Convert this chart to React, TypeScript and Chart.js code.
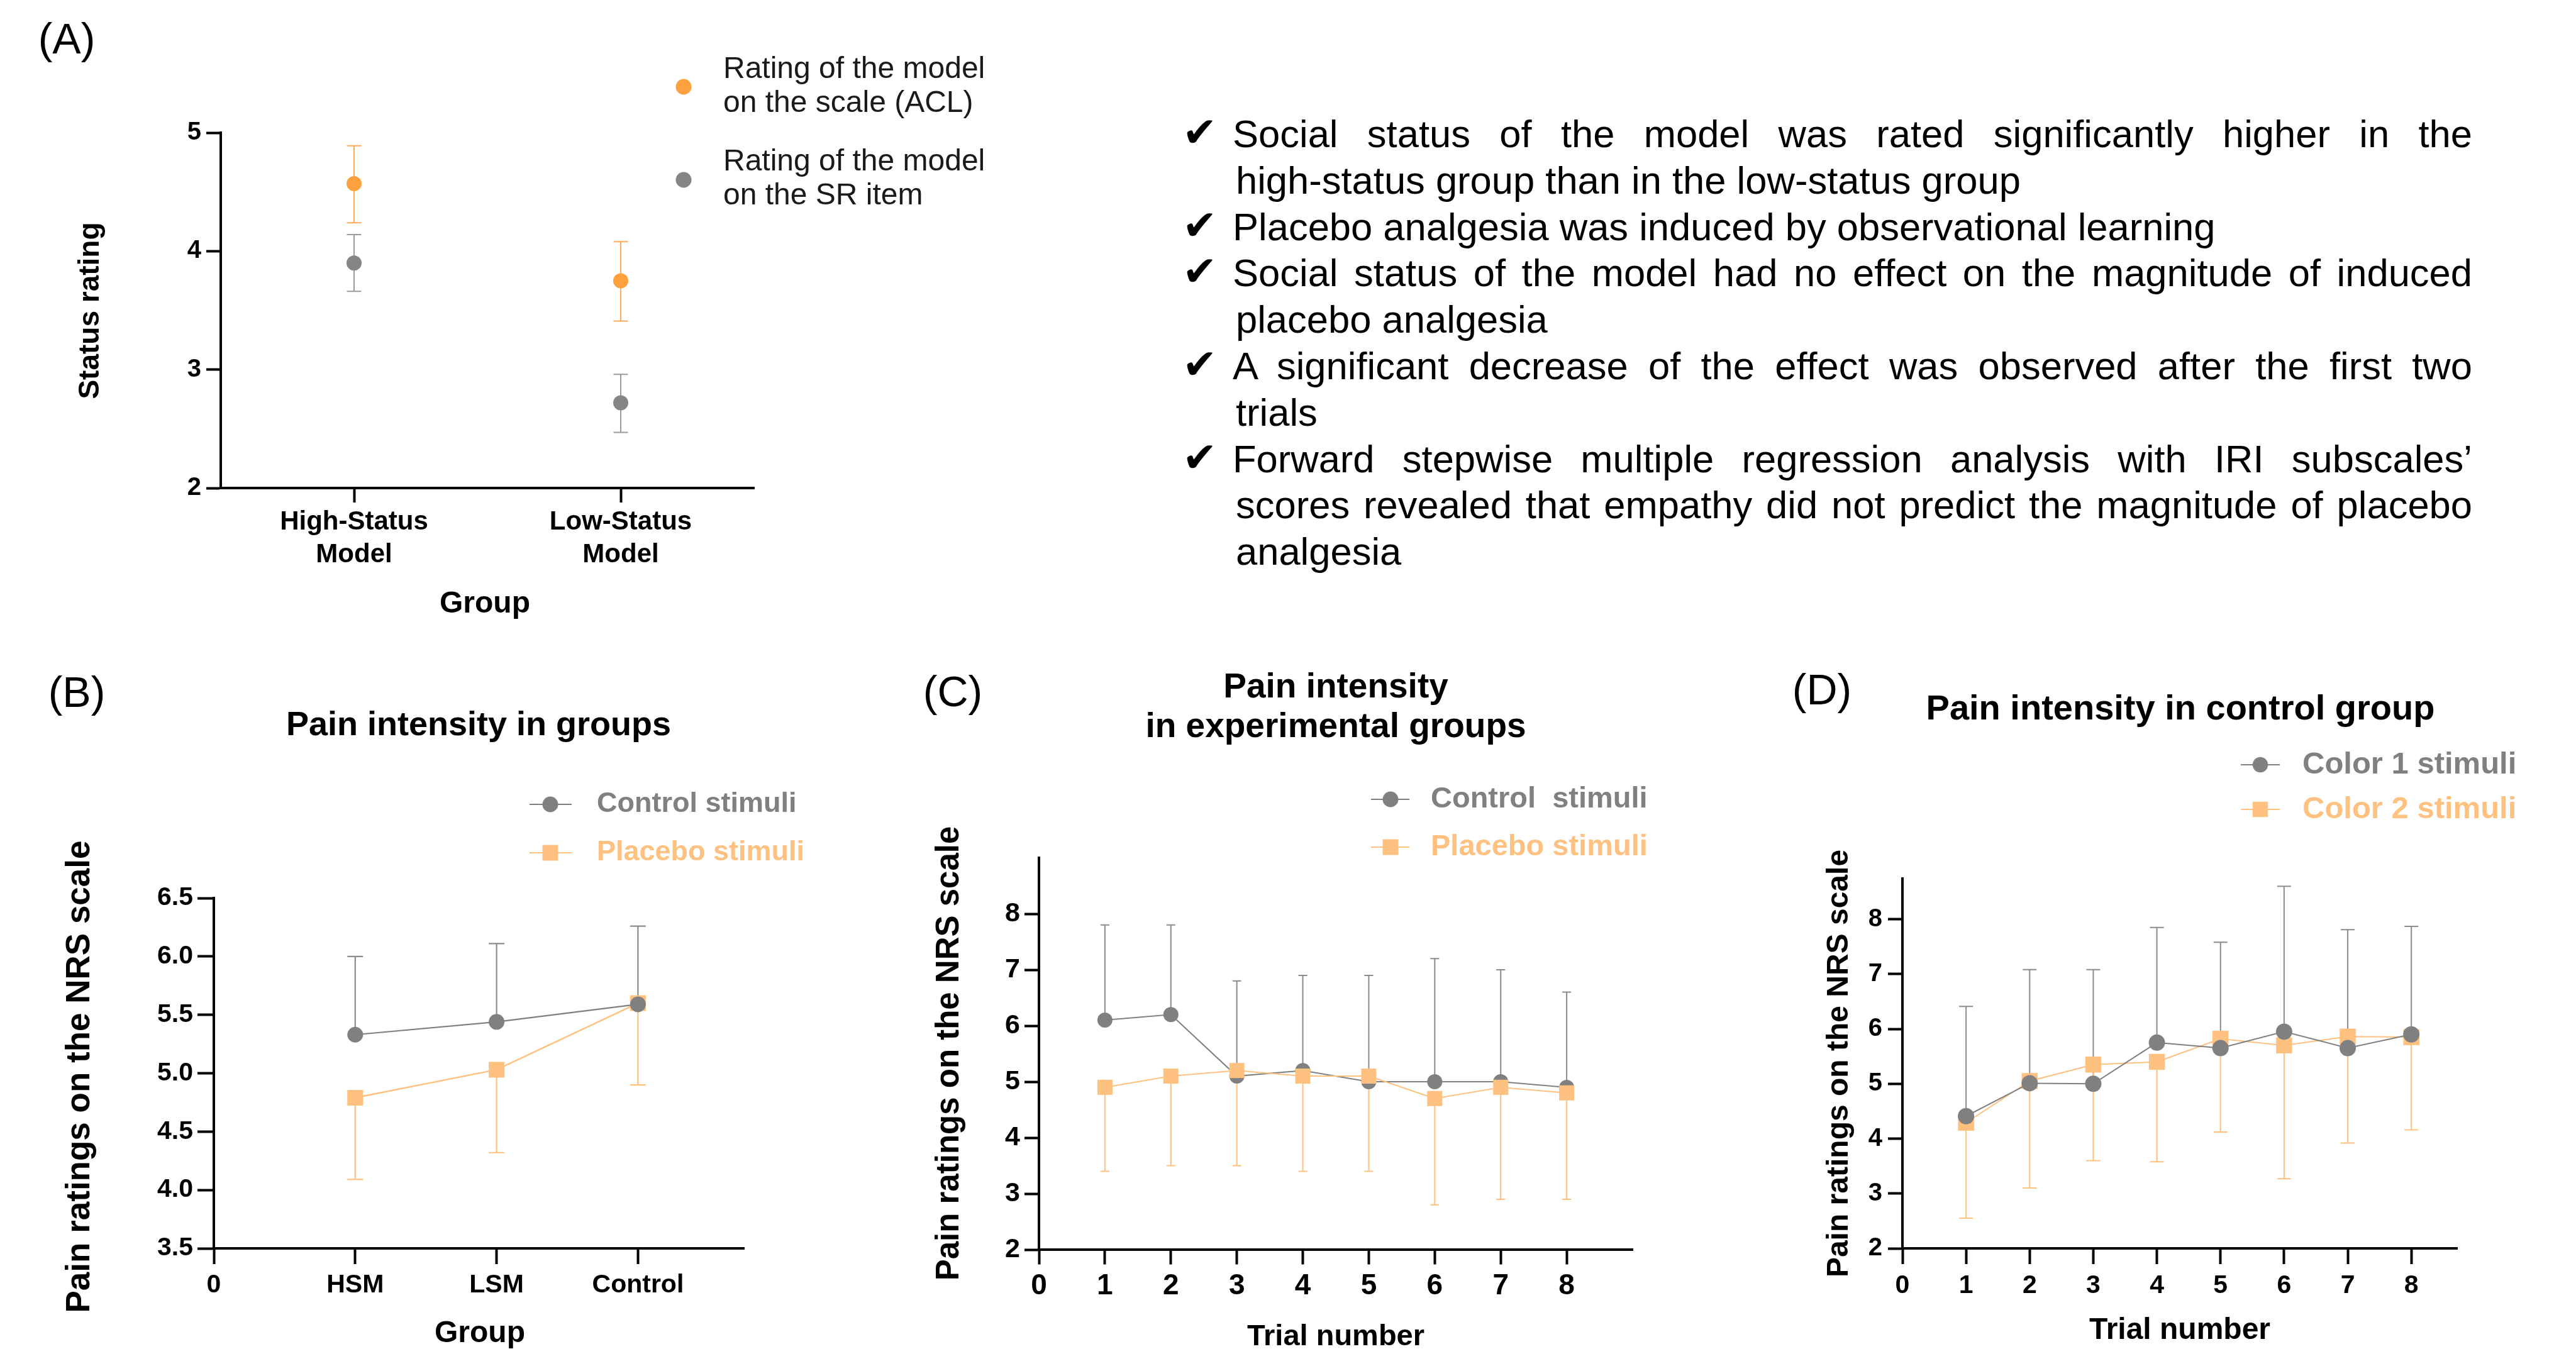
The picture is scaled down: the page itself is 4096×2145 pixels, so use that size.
import React, { useEffect, useRef } from 'react';
import { Chart, registerables } from 'chart.js';

Chart.register(...registerables);

const FONT = "'Liberation Sans', Arial, Helvetica, sans-serif";
Chart.defaults.font.family = FONT;

const GRAY = '#808080';
const GRAY_BAR = '#8c8c8c';
const ORANGE = '#FFC180';
const ORANGE_A = '#FFA03E';
const ORANGE_A_BAR = '#FFAD5A';
const GRAY_A = '#858585';
const GRAY_A_BAR = '#9a9a9a';

// ---------------- Panel A ----------------
const categoriesA = [['High-Status', 'Model'], ['Low-Status', 'Model']];
const aclMean = [4.57, 3.75];
const aclLower = [4.24, 3.41];
const aclUpper = [4.89, 4.08];
const srMean = [3.9, 2.72];
const srLower = [3.66, 2.47];
const srUpper = [4.14, 2.96];
const yTicksA = [2, 3, 4, 5];

// ---------------- Panel B ----------------
const groupPosB = [1, 2, 3];
const xTicksB = [0, 1, 2, 3];
const xTickLabelsB = ['0', 'HSM', 'LSM', 'Control'];
const yTicksB = [3.5, 4.0, 4.5, 5.0, 5.5, 6.0, 6.5];
const controlB = [5.33, 5.44, 5.59];
const controlBUpper = [6.0, 6.11, 6.26];
const placeboB = [4.79, 5.03, 5.6];
const placeboBLower = [4.09, 4.32, 4.9];

// ---------------- Panel C ----------------
const trialsC = [1, 2, 3, 4, 5, 6, 7, 8];
const xTicksC = [0, 1, 2, 3, 4, 5, 6, 7, 8];
const yTicksC = [2, 3, 4, 5, 6, 7, 8];
const controlC = [6.1, 6.2, 5.1, 5.2, 5.0, 5.0, 5.0, 4.9];
const controlCUpper = [7.8, 7.8, 6.8, 6.9, 6.9, 7.2, 7.0, 6.6];
const placeboC = [4.9, 5.1, 5.2, 5.1, 5.1, 4.7, 4.9, 4.8];
const placeboCLower = [3.4, 3.5, 3.5, 3.4, 3.4, 2.8, 2.9, 2.9];

// ---------------- Panel D ----------------
const trialsD = [1, 2, 3, 4, 5, 6, 7, 8];
const xTicksD = [0, 1, 2, 3, 4, 5, 6, 7, 8];
const yTicksD = [2, 3, 4, 5, 6, 7, 8];
const color1D = [4.41, 5.01, 5.0, 5.75, 5.65, 5.95, 5.65, 5.9];
const color1DUpper = [6.41, 7.08, 7.08, 7.85, 7.58, 8.6, 7.81, 7.87];
const color2D = [4.29, 5.05, 5.35, 5.4, 5.82, 5.7, 5.86, 5.85];
const color2DLower = [2.55, 3.1, 3.6, 3.58, 4.12, 3.27, 3.92, 4.16];

// ---------------- Text block ----------------
const bulletLines: [boolean, string, boolean][] = [
  [true, 'Social status of the model was rated significantly higher in the', true],
  [false, 'high-status group than in the low-status group', false],
  [true, 'Placebo analgesia was induced by observational learning', false],
  [true, 'Social status of the model had no effect on the magnitude of induced', true],
  [false, 'placebo analgesia', false],
  [true, 'A significant decrease of the effect was observed after the first two', true],
  [false, 'trials', false],
  [true, 'Forward stepwise multiple regression analysis with IRI subscales\u2019', true],
  [false, 'scores revealed that empathy did not predict the magnitude of placebo', true],
  [false, 'analgesia', false],
];

type Item =
  | { kind: 'text'; text: string; x: number; y: number; size: number; bold?: boolean; color?: string; align?: CanvasTextAlign; rotate?: boolean }
  | { kind: 'legend'; x1: number; x2: number; cx: number; y: number; color: string; marker: 'circle' | 'square'; r: number; lw: number };

const errorBarPlugin = {
  id: 'errorBars',
  beforeDatasetsDraw(chart: any) {
    const { ctx } = chart;
    const yScale = chart.scales.y;
    chart.data.datasets.forEach((ds: any, i: number) => {
      const eb = ds.errorBars;
      if (!eb) return;
      const meta = chart.getDatasetMeta(i);
      ctx.save();
      ctx.strokeStyle = eb.color;
      ctx.lineWidth = eb.width;
      meta.data.forEach((el: any, j: number) => {
        const x = el.x;
        const y = el.y;
        const bounds: number[] = [];
        if (eb.upper) bounds.push(eb.upper[j]);
        if (eb.lower) bounds.push(eb.lower[j]);
        bounds.forEach((b) => {
          const yb = yScale.getPixelForValue(b);
          ctx.beginPath();
          ctx.moveTo(x, y);
          ctx.lineTo(x, yb);
          ctx.moveTo(x - eb.cap, yb);
          ctx.lineTo(x + eb.cap, yb);
          ctx.stroke();
        });
      });
      ctx.restore();
    });
  },
};

function makeDecor(items: Item[], ox: number, oy: number) {
  return {
    id: 'decor',
    afterDraw(chart: any) {
      const ctx: CanvasRenderingContext2D = chart.ctx;
      for (const it of items) {
        ctx.save();
        if (it.kind === 'text') {
          ctx.font = `${it.bold ? 'bold ' : ''}${it.size}px ${FONT}`;
          ctx.fillStyle = it.color || '#000';
          ctx.textAlign = it.align || 'center';
          ctx.textBaseline = 'middle';
          ctx.translate(it.x - ox, it.y - oy);
          if (it.rotate) ctx.rotate(-Math.PI / 2);
          ctx.fillText(it.text, 0, 0);
        } else {
          const y = it.y - oy;
          if (it.x2 > it.x1) {
            ctx.strokeStyle = it.color;
            ctx.lineWidth = it.lw;
            ctx.beginPath();
            ctx.moveTo(it.x1 - ox, y);
            ctx.lineTo(it.x2 - ox, y);
            ctx.stroke();
          }
          ctx.fillStyle = it.color;
          const cx = it.cx - ox;
          if (it.marker === 'circle') {
            ctx.beginPath();
            ctx.arc(cx, y, it.r, 0, Math.PI * 2);
            ctx.fill();
          } else {
            ctx.fillRect(cx - it.r, y - it.r, it.r * 2, it.r * 2);
          }
        }
        ctx.restore();
      }
    },
  };
}

function axis(tickLen: number, fontSize: number, padding: number, lineHeight = 1.2, callback?: any) {
  const ticks: any = {
    color: '#000',
    font: { family: FONT, size: fontSize, weight: 'bold' as const, lineHeight },
    padding,
    autoSkip: false,
    maxRotation: 0,
    minRotation: 0,
  };
  if (callback) ticks.callback = callback;
  return {
    grid: { display: true, drawOnChartArea: false, drawTicks: true, tickLength: tickLen, tickWidth: 4, tickColor: '#000' },
    border: { display: true, width: 4, color: '#000' },
    ticks,
  };
}

interface Spec {
  ox: number; oy: number; w: number; h: number;
  area: { left: number; right: number; top: number; bottom: number };
  xH: number; x: any; y: any; labels?: any[]; datasets: any[]; items: Item[];
}

function buildConfig(p: Spec): any {
  const L = p.area.left - p.ox;
  const R = p.area.right - p.ox;
  const T = p.area.top - p.oy;
  const B = p.area.bottom - p.oy;
  return {
    type: 'line',
    data: { labels: p.labels, datasets: p.datasets },
    options: {
      responsive: false,
      maintainAspectRatio: false,
      animation: false,
      events: [],
      layout: { padding: { left: 0, top: T, right: p.w - R, bottom: p.h - B - p.xH } },
      plugins: { legend: { display: false }, tooltip: { enabled: false }, title: { display: false } },
      scales: {
        x: { ...p.x, afterFit: (s: any) => { s.height = p.xH; } },
        y: { ...p.y, afterFit: (s: any) => { s.width = L; } },
      },
    },
    plugins: [errorBarPlugin, makeDecor(p.items, p.ox, p.oy)],
  };
}

function lineDs(label: string, xs: number[], ys: number[], color: string, style: 'circle' | 'rect', radius: number, lw: number, order: number, eb: any, showLine = true) {
  return {
    label,
    data: ys.map((v, i) => ({ x: xs[i], y: v })),
    borderColor: color,
    backgroundColor: color,
    borderWidth: lw,
    showLine,
    tension: 0,
    fill: false,
    pointStyle: style,
    pointRadius: radius,
    pointBackgroundColor: color,
    pointBorderWidth: 0,
    pointBorderColor: color,
    order,
    clip: false,
    errorBars: eb,
  };
}

const specA: Spec = {
  ox: 0, oy: 0, w: 1700, h: 1060,
  area: { left: 351, right: 1199, top: 211, bottom: 776 },
  xH: 150,
  labels: categoriesA,
  x: { type: 'category', offset: true, ...axis(23, 42, 5, 1.25), grid: { display: true, drawOnChartArea: false, drawTicks: true, tickLength: 23, tickWidth: 4, tickColor: '#000', offset: false } },
  y: {
    type: 'linear', min: 2, max: 5, ...axis(23, 40, 8),
    afterBuildTicks: (s: any) => { s.ticks = yTicksA.map((v) => ({ value: v })); },
  },
  datasets: [
    {
      label: 'Rating of the model on the scale (ACL)', data: aclMean, showLine: false,
      pointStyle: 'circle', pointRadius: 12, pointBackgroundColor: ORANGE_A, pointBorderWidth: 0,
      borderColor: ORANGE_A, backgroundColor: ORANGE_A, order: 0, clip: false,
      errorBars: { upper: aclUpper, lower: aclLower, color: ORANGE_A_BAR, width: 2, cap: 11.5 },
    },
    {
      label: 'Rating of the model on the SR item', data: srMean, showLine: false,
      pointStyle: 'circle', pointRadius: 12, pointBackgroundColor: GRAY_A, pointBorderWidth: 0,
      borderColor: GRAY_A, backgroundColor: GRAY_A, order: 1, clip: false,
      errorBars: { upper: srUpper, lower: srLower, color: GRAY_A_BAR, width: 2, cap: 11.5 },
    },
  ],
  items: [
    { kind: 'text', text: '(A)', x: 106, y: 66, size: 68 },
    { kind: 'text', text: 'Status rating', x: 144, y: 494, size: 46, bold: true, rotate: true },
    { kind: 'text', text: 'Group', x: 771, y: 961, size: 48, bold: true },
    { kind: 'legend', x1: 0, x2: 0, cx: 1087, y: 138, color: ORANGE_A, marker: 'circle', r: 12.5, lw: 0 },
    { kind: 'text', text: 'Rating of the model', x: 1150, y: 111, size: 48, align: 'left', color: '#1a1a1a' },
    { kind: 'text', text: 'on the scale (ACL)', x: 1150, y: 165, size: 48, align: 'left', color: '#1a1a1a' },
    { kind: 'legend', x1: 0, x2: 0, cx: 1087, y: 286, color: GRAY_A, marker: 'circle', r: 12.5, lw: 0 },
    { kind: 'text', text: 'Rating of the model', x: 1150, y: 258, size: 48, align: 'left', color: '#1a1a1a' },
    { kind: 'text', text: 'on the SR item', x: 1150, y: 312, size: 48, align: 'left', color: '#1a1a1a' },
  ],
};

const specB: Spec = {
  ox: 0, oy: 1060, w: 1400, h: 1085,
  area: { left: 340, right: 1183, top: 1428, bottom: 1985 },
  xH: 100,
  x: {
    type: 'linear', min: 0, max: 3.75,
    ...axis(25, 41, 9, 1.2, (_v: any, i: number) => xTickLabelsB[i]),
    afterBuildTicks: (s: any) => { s.ticks = xTicksB.map((v) => ({ value: v })); },
  },
  y: {
    type: 'linear', min: 3.5, max: 6.5,
    ...axis(26, 41, 7, 1.2, (v: any) => Number(v).toFixed(1)),
    afterBuildTicks: (s: any) => { s.ticks = yTicksB.map((v) => ({ value: v })); },
  },
  datasets: [
    lineDs('Control stimuli', groupPosB, controlB, GRAY, 'circle', 12.5, 2.2, 0, { upper: controlBUpper, color: GRAY_BAR, width: 2.2, cap: 12.5 }),
    lineDs('Placebo stimuli', groupPosB, placeboB, ORANGE, 'rect', 17.7, 2.4, 1, { lower: placeboBLower, color: ORANGE, width: 2.2, cap: 12.5 }),
  ],
  items: [
    { kind: 'text', text: '(B)', x: 122, y: 1105, size: 68 },
    { kind: 'text', text: 'Pain intensity in groups', x: 761, y: 1154, size: 54, bold: true },
    { kind: 'legend', x1: 842, x2: 909, cx: 875, y: 1279, color: GRAY, marker: 'circle', r: 12.5, lw: 2.2 },
    { kind: 'text', text: 'Control stimuli', x: 949, y: 1279, size: 45, bold: true, align: 'left', color: GRAY },
    { kind: 'legend', x1: 842, x2: 909, cx: 875, y: 1356, color: ORANGE, marker: 'square', r: 12.5, lw: 2.2 },
    { kind: 'text', text: 'Placebo stimuli', x: 949, y: 1356, size: 45, bold: true, align: 'left', color: ORANGE },
    { kind: 'text', text: 'Pain ratings on the NRS scale', x: 127, y: 1712, size: 53, bold: true, rotate: true },
    { kind: 'text', text: 'Group', x: 763, y: 2121, size: 48, bold: true },
  ],
};

const specC: Spec = {
  ox: 1400, oy: 1060, w: 1350, h: 1085,
  area: { left: 1652, right: 2596, top: 1364, bottom: 1987 },
  xH: 100,
  x: {
    type: 'linear', min: 0, max: 9, ...axis(23.5, 46, 7.5),
    afterBuildTicks: (s: any) => { s.ticks = xTicksC.map((v) => ({ value: v })); },
  },
  y: {
    type: 'linear', min: 2, max: 9, ...axis(23, 43, 7),
    afterBuildTicks: (s: any) => { s.ticks = yTicksC.map((v) => ({ value: v })); },
  },
  datasets: [
    lineDs('Placebo stimuli', trialsC, placeboC, ORANGE, 'rect', 17, 2, 0, { lower: placeboCLower, color: ORANGE, width: 2, cap: 7 }),
    lineDs('Control  stimuli', trialsC, controlC, GRAY, 'circle', 12, 2, 1, { upper: controlCUpper, color: GRAY_BAR, width: 2, cap: 7 }),
  ],
  items: [
    { kind: 'text', text: '(C)', x: 1515, y: 1104, size: 68 },
    { kind: 'text', text: 'Pain intensity', x: 2124, y: 1094, size: 55, bold: true },
    { kind: 'text', text: 'in experimental groups', x: 2124, y: 1157, size: 55, bold: true },
    { kind: 'legend', x1: 2180, x2: 2241, cx: 2211, y: 1271, color: GRAY, marker: 'circle', r: 12.5, lw: 2.2 },
    { kind: 'text', text: 'Control  stimuli', x: 2275, y: 1271, size: 47, bold: true, align: 'left', color: GRAY },
    { kind: 'legend', x1: 2180, x2: 2241, cx: 2211, y: 1347, color: ORANGE, marker: 'square', r: 12.5, lw: 2.2 },
    { kind: 'text', text: 'Placebo stimuli', x: 2275, y: 1347, size: 47, bold: true, align: 'left', color: ORANGE },
    { kind: 'text', text: 'Pain ratings on the NRS scale', x: 1510, y: 1675, size: 51, bold: true, rotate: true },
    { kind: 'text', text: 'Trial number', x: 2124, y: 2126, size: 47, bold: true },
  ],
};

const specD: Spec = {
  ox: 2750, oy: 1060, w: 1346, h: 1085,
  area: { left: 3025, right: 3907, top: 1397, bottom: 1985 },
  xH: 100,
  x: {
    type: 'linear', min: 0, max: 8.72, ...axis(25, 41, 10),
    afterBuildTicks: (s: any) => { s.ticks = xTicksD.map((v) => ({ value: v })); },
  },
  y: {
    type: 'linear', min: 2, max: 8.74, ...axis(23, 40, 9),
    afterBuildTicks: (s: any) => { s.ticks = yTicksD.map((v) => ({ value: v })); },
  },
  datasets: [
    lineDs('Color 1 stimuli', trialsD, color1D, GRAY, 'circle', 13, 2, 0, { upper: color1DUpper, color: GRAY_BAR, width: 2, cap: 11 }),
    lineDs('Color 2 stimuli', trialsD, color2D, ORANGE, 'rect', 18, 2, 1, { lower: color2DLower, color: ORANGE, width: 2, cap: 11 }),
  ],
  items: [
    { kind: 'text', text: '(D)', x: 2897, y: 1101, size: 68 },
    { kind: 'text', text: 'Pain intensity in control group', x: 3467, y: 1129, size: 56, bold: true },
    { kind: 'legend', x1: 3563, x2: 3625, cx: 3594, y: 1216, color: GRAY, marker: 'circle', r: 12.2, lw: 2.2 },
    { kind: 'text', text: 'Color 1 stimuli', x: 3661, y: 1216, size: 49, bold: true, align: 'left', color: GRAY },
    { kind: 'legend', x1: 3563, x2: 3625, cx: 3594, y: 1287, color: ORANGE, marker: 'square', r: 12.2, lw: 2.2 },
    { kind: 'text', text: 'Color 2 stimuli', x: 3661, y: 1287, size: 49, bold: true, align: 'left', color: ORANGE },
    { kind: 'text', text: 'Pain ratings on the NRS scale', x: 2925, y: 1691, size: 48, bold: true, rotate: true },
    { kind: 'text', text: 'Trial number', x: 3466, y: 2116, size: 48, bold: true },
  ],
};

function Panel({ spec }: { spec: Spec }) {
  const ref = useRef<HTMLCanvasElement>(null);
  useEffect(() => {
    if (!ref.current) return;
    const chart = new Chart(ref.current, buildConfig(spec));
    return () => chart.destroy();
  }, []);
  return (
    <canvas
      ref={ref}
      width={spec.w}
      height={spec.h}
      style={{ position: 'absolute', left: spec.ox, top: spec.oy, width: spec.w, height: spec.h }}
    />
  );
}

function Findings() {
  const lineH = 73.8;
  const firstCenter = 213;
  const right = 3931;
  return (
    <>
      {bulletLines.map(([hasCheck, text, justify], i) => {
        const top = firstCenter - 37 + i * lineH;
        const left = hasCheck ? 1960 : 1965;
        return (
          <React.Fragment key={i}>
            {hasCheck && (
              <div
                style={{
                  position: 'absolute', left: 1880, top: top - 2, height: 74, lineHeight: '74px',
                  fontFamily: "'DejaVu Sans', sans-serif", fontWeight: 'bold', fontSize: 66, color: '#000',
                }}
              >
                {'\u2714'}
              </div>
            )}
            <div
              style={{
                position: 'absolute', left, top, width: right - left, height: 74, lineHeight: '74px',
                fontFamily: FONT, fontSize: 61.5, color: '#000',
                textAlign: justify ? 'justify' : 'left',
                textAlignLast: justify ? 'justify' : 'left',
              } as React.CSSProperties}
            >
              {text}
            </div>
          </React.Fragment>
        );
      })}
    </>
  );
}

export default function App() {
  return (
    <div style={{ position: 'absolute', left: 0, top: 0, width: 4096, height: 2145, background: '#fff', overflow: 'hidden' }}>
      <Panel spec={specA} />
      <Panel spec={specB} />
      <Panel spec={specC} />
      <Panel spec={specD} />
      <Findings />
    </div>
  );
}
